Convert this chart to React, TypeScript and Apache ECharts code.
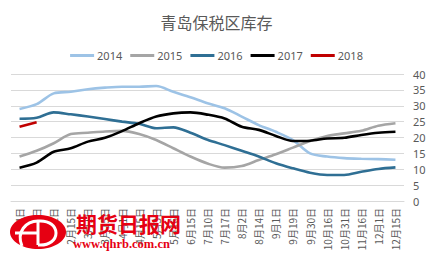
import React, { useEffect, useRef } from "react";
import * as echarts from "echarts";

const categories = [
  "1月4日", "1月18日", "2月1日", "2月15日", "3月1日", "3月15日", "4月1日", "4月15日",
  "5月3日", "5月16日", "6月15日", "7月10日", "7月17日", "8月2日", "8月14日", "9月1日",
  "9月19日", "9月30日", "10月16日", "10月31日", "11月16日", "12月1日", "12月15日",
];

const s2014 = [29.0, 30.5, 33.9, 34.4, 35.2, 35.7, 36.0, 36.0, 36.2, 34.4, 32.7, 30.8, 29.2, 26.6, 23.9, 21.8, 19.2, 15.0, 14.0, 13.5, 13.3, 13.2, 13.0];
const s2015 = [14.0, 15.8, 18.2, 21.1, 21.5, 21.9, 22.1, 21.1, 19.2, 16.6, 14.0, 11.8, 10.5, 11.0, 12.9, 14.7, 16.8, 18.9, 20.5, 21.3, 22.1, 23.7, 24.5];
const s2016 = [25.9, 26.2, 27.9, 27.3, 26.6, 25.8, 25.0, 24.3, 22.9, 23.2, 21.5, 19.3, 17.6, 15.8, 14.0, 11.9, 10.3, 8.9, 8.2, 8.2, 9.2, 10.1, 10.6];
const s2017 = [10.5, 12.1, 15.5, 16.6, 18.7, 19.9, 22.0, 24.5, 26.6, 27.6, 27.9, 27.2, 26.0, 23.4, 22.4, 20.5, 18.9, 19.0, 19.7, 19.9, 20.8, 21.5, 21.8];
const s2018 = [23.4, 24.8];

const seriesNames = ["2014", "2015", "2016", "2017", "2018"];
const seriesColors = ["#9DC3E6", "#A5A5A5", "#2F6F94", "#000000", "#C00000"];
const seriesData = [s2014, s2015, s2016, s2017, s2018];

const yTicks = { min: 0, max: 40, interval: 5 };

export default function App() {
  const ref = useRef<HTMLDivElement>(null);
  useEffect(() => {
    if (!ref.current) return;
    const chart = echarts.init(ref.current, undefined, { renderer: "svg" });
    const red = "#E60012";
    chart.setOption({
      animation: false,
      backgroundColor: "#ffffff",
      title: {
        text: "青岛保税区库存",
        left: "center",
        top: 9,
        textStyle: {
          fontFamily: "Noto Sans CJK SC",
          fontSize: 16,
          fontWeight: "normal",
          color: "#595959",
        },
      },
      legend: {
        top: 45,
        left: "center",
        icon: "rect",
        itemWidth: 24,
        itemHeight: 3,
        itemGap: 8,
        textStyle: { fontFamily: "Noto Sans", fontSize: 11, color: "#595959", padding: [0, 0, 0, -2] },
        data: seriesNames,
      },
      grid: { left: 11, right: 29, top: 74, bottom: 59 },
      xAxis: {
        type: "category",
        data: categories,
        boundaryGap: true,
        axisLine: { show: true, lineStyle: { color: "#D9D9D9" } },
        axisTick: { show: false },
        axisLabel: {
          interval: 0,
          rotate: 90,
          margin: 7,
          fontSize: 10,
          color: "#595959",
          fontFamily: "Noto Sans CJK SC",
        },
      },
      yAxis: {
        type: "value",
        position: "right",
        min: yTicks.min,
        max: yTicks.max,
        interval: yTicks.interval,
        axisLine: { show: false },
        axisTick: { show: false },
        axisLabel: { margin: 9, fontSize: 11, color: "#595959", fontFamily: "Noto Sans" },
        splitLine: { lineStyle: { color: "#D9D9D9", width: 1 } },
      },
      series: seriesNames.map((name, i) => ({
        name,
        type: "line",
        data: seriesData[i],
        smooth: 0.3,
        symbol: "none",
        lineStyle: { color: seriesColors[i], width: 2.6 },
        itemStyle: { color: seriesColors[i] },
      })),
      graphic: [
        { type: "ellipse", shape: { cx: 38, cy: 232, rx: 28, ry: 17 }, style: { fill: red }, z: 100 },
        { type: "line", shape: { x1: 15, y1: 233, x2: 38, y2: 233 }, style: { stroke: "#fff", lineWidth: 3 }, z: 101 },
        { type: "line", shape: { x1: 38, y1: 221, x2: 38, y2: 245 }, style: { stroke: "#fff", lineWidth: 3 }, z: 101 },
        { type: "bezierCurve", shape: { x1: 38, y1: 221, x2: 38, y2: 245, cpx1: 62, cpy1: 219, cpx2: 62, cpy2: 247 }, style: { stroke: "#fff", lineWidth: 3, fill: null }, z: 101 },
        { type: "bezierCurve", shape: { x1: 22, y1: 246, x2: 38, y2: 221, cpx1: 16, cpy1: 232, cpx2: 26, cpy2: 221 }, style: { stroke: "#fff", lineWidth: 3, fill: null }, z: 101 },
        {
          type: "text",
          x: 76,
          y: 212,
          z: 100,
          style: { text: "期货日报网", fill: red, font: "bold 21px 'Noto Sans CJK SC'" },
        },
        {
          type: "text",
          x: 73,
          y: 237,
          z: 100,
          style: { text: "www.qhrb.com.cn", fill: red, font: "bold 12.5px 'Liberation Serif'" },
        },
      ],
    });
    return () => chart.dispose();
  }, []);
  return <div ref={ref} style={{ width: 433, height: 260, position: "absolute", left: 0, top: 0 }} />;
}
